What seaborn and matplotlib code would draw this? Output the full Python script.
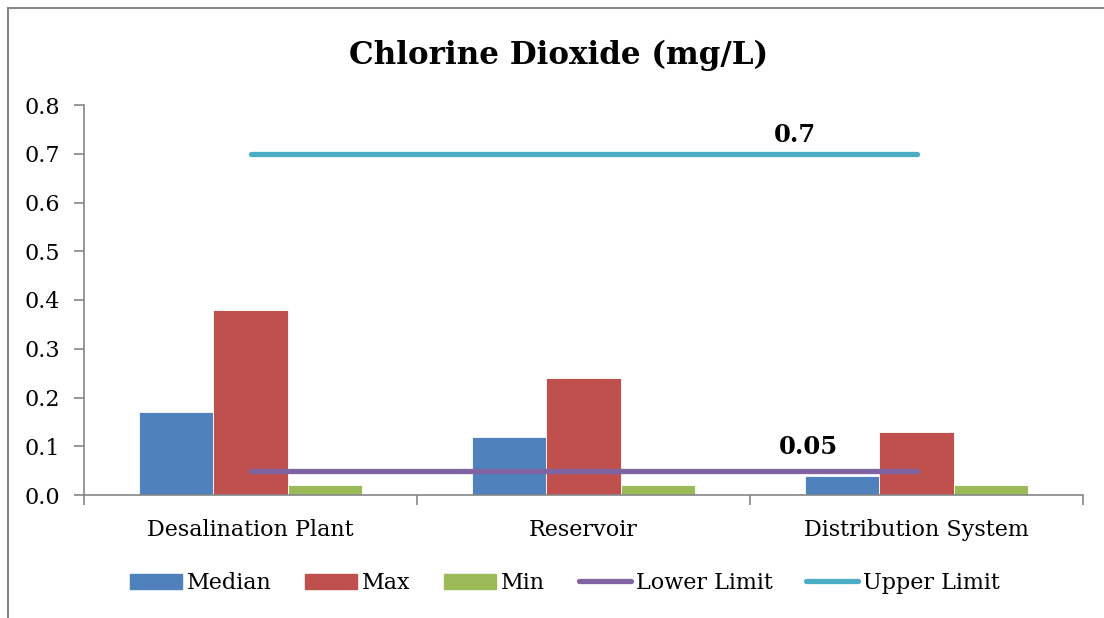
import numpy as np
import pandas as pd
import matplotlib
matplotlib.use("Agg")
import matplotlib.pyplot as plt
import matplotlib.patches as mpatches
from matplotlib.lines import Line2D
import seaborn as sns

# ---- data ----
categories = ["Desalination Plant", "Reservoir", "Distribution System"]
median_vals = [0.17, 0.12, 0.04]
max_vals = [0.38, 0.24, 0.13]
min_vals = [0.02, 0.02, 0.02]
lower_limit = [0.05, 0.05, 0.05]
upper_limit = [0.7, 0.7, 0.7]
series_names = ["Median", "Max", "Min"]
yticks = [0.0, 0.1, 0.2, 0.3, 0.4, 0.5, 0.6, 0.7, 0.8]
title = "Chlorine Dioxide (mg/L)"

colors = {"Median": "#4F81BD", "Max": "#C0504D", "Min": "#9BBB59"}
lower_color = "#8064A2"
upper_color = "#4BACC6"

sns.set_style("white")
plt.rcParams["font.family"] = ["DejaVu Serif"]
plt.rcParams["text.color"] = "black"
plt.rcParams["xtick.color"] = "black"
plt.rcParams["ytick.color"] = "black"

fig = plt.figure(figsize=(11.04, 6.18), dpi=100)
ax = fig.add_axes([84 / 1104, 1 - 495 / 618, (1083 - 84) / 1104, (495 - 105) / 618])

df = pd.DataFrame({
    "category": np.repeat(categories, 3),
    "series": series_names * len(categories),
    "value": np.ravel(np.column_stack([median_vals, max_vals, min_vals])),
})
sns.barplot(data=df, x="category", y="value", hue="series", hue_order=series_names,
            order=categories, palette=colors, width=0.667, ax=ax, legend=False,
            edgecolor="white", linewidth=0.6, saturation=1)

pos = np.arange(len(categories))
lim_df = pd.DataFrame({"x": np.concatenate([pos, pos]),
                       "y": lower_limit + upper_limit,
                       "name": ["Lower Limit"] * 3 + ["Upper Limit"] * 3})
sns.lineplot(data=lim_df, x="x", y="y", hue="name",
             palette={"Lower Limit": lower_color, "Upper Limit": upper_color},
             linewidth=3.8, ax=ax, legend=False)
for ln in ax.get_lines():
    ln.set_solid_capstyle("round")

# data labels
ax.text(1.636, upper_limit[-1] + 0.038, f"{upper_limit[-1]:g}", ha="center", va="center",
        fontsize=17.5, fontweight="bold")
ax.text(1.675, lower_limit[-1] + 0.048, f"{lower_limit[-1]:g}", ha="center", va="center",
        fontsize=17.5, fontweight="bold")

ax.set_xlim(-0.5, len(categories) - 0.5)
ax.set_ylim(0, 0.8)
ax.set_yticks(yticks)
ax.set_yticklabels([f"{v:.1f}" for v in yticks])
ax.set_xticks(pos)
ax.set_xticklabels(categories)
ax.set_xlabel("")
ax.set_ylabel("")
ax.tick_params(axis="x", length=0, pad=17.5, labelsize=16)
ax.tick_params(axis="y", length=7, width=1.2, color="#868686", pad=10, labelsize=16, left=True)
# category boundary ticks on x axis
ax.set_xticks(np.arange(len(categories) + 1) - 0.5, minor=True)
ax.tick_params(axis="x", which="minor", length=7, width=1.2, color="#868686", bottom=True)

for s in ["top", "right"]:
    ax.spines[s].set_visible(False)
for s in ["left", "bottom"]:
    ax.spines[s].set_color("#868686")
    ax.spines[s].set_linewidth(1.2)

fig.text(559 / 1104, 1 - 55 / 618, title, ha="center", va="center",
         fontsize=22.3, fontweight="bold")

handles = [mpatches.Patch(color=colors[n], label=n) for n in series_names] + [
    Line2D([0], [0], color=lower_color, lw=3.8, solid_capstyle="round", label="Lower Limit"),
    Line2D([0], [0], color=upper_color, lw=3.8, solid_capstyle="round", label="Upper Limit"),
]
fig.legend(handles=handles, loc="center", bbox_to_anchor=(565 / 1104, 1 - 583 / 618),
           ncol=5, frameon=False, fontsize=16, handlelength=2.34, handleheight=0.68,
           handletextpad=0.23, columnspacing=1.5)

# figure border
fig.patches.append(mpatches.Rectangle((8 / 1104, -0.1), 1.2, 1.1 - 8 / 618,
                                      transform=fig.transFigure, fill=False,
                                      edgecolor="#868686", linewidth=1.5))

fig.savefig("out.png", dpi=100)
